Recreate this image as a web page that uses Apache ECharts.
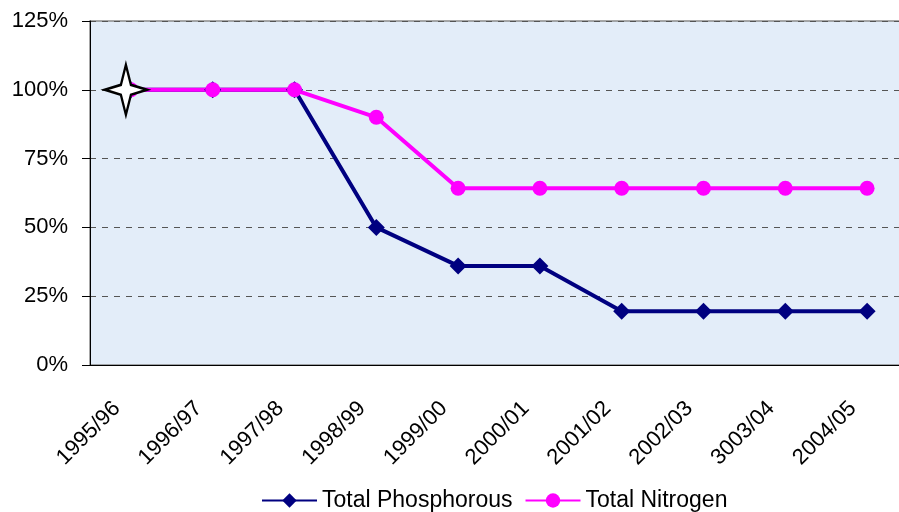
<!DOCTYPE html>
<html>
<head>
<meta charset="utf-8">
<script src="https://cdn.jsdelivr.net/npm/echarts@6/dist/echarts.min.js"></script>
<style>
  html, body { margin: 0; padding: 0; background: #fff; overflow: hidden; }
  #chart { width: 910px; height: 512px; }
</style>
</head>
<body>
<div id="chart"></div>
<script>
var years = ['1995/96', '1996/97', '1997/98', '1998/99', '1999/00', '2000/01', '2001/02', '2002/03', '3003/04', '2004/05'];
var phosphorous = [100, 100, 100, 50, 36, 36, 19.5, 19.5, 19.5, 19.5];
var nitrogen = [100, 100, 100, 90, 64.2, 64.2, 64.2, 64.2, 64.2, 64.2];
var yTicks = [0, 25, 50, 75, 100, 125];

// chart is a bit wider than the window: the plot runs off the right edge like the original
var myChart = echarts.init(document.getElementById('chart'));

var starPath = 'path://M0,-25 L5,-5 L21,0 L5,5 L0,25 L-5,5 L-21,0 L-5,-5 Z';

let option = {
    animation: false,
    textStyle: { fontFamily: 'Liberation Sans, Arial, sans-serif' },
    grid: {
        left: 90,
        right: 2,
        top: 21,
        bottom: 147,
        show: true,
        backgroundColor: '#e3edf9',
        borderColor: '#8a8a8a',
        borderWidth: 1.5
    },
    legend: {
        top: 484,
        left: 256,
        itemWidth: 55,
        itemHeight: 18,
        itemGap: 12,
        textStyle: { fontSize: 23, color: '#000', fontFamily: 'Liberation Sans, Arial, sans-serif' },
        data: ['Total Phosphorous', 'Total Nitrogen']
    },
    xAxis: {
        type: 'category',
        data: years,
        boundaryGap: true,
        axisLine: { lineStyle: { color: '#000', width: 1 } },
        axisTick: { length: 8, lineStyle: { color: '#000' } },
        axisLabel: {
            rotate: 45,
            fontSize: 22,
            color: '#000',
            margin: 26,
            padding: [0, 20, 0, 0],
            interval: 0
        }
    },
    yAxis: {
        type: 'value',
        min: 0,
        max: 125,
        interval: 25,
        axisLine: { show: true, lineStyle: { color: '#000', width: 1 } },
        axisTick: { show: true, length: 8, lineStyle: { color: '#000' } },
        axisLabel: {
            fontSize: 22,
            color: '#000',
            margin: 22,
            formatter: function (v) { return yTicks.indexOf(v) >= 0 ? v + '%' : ''; }
        },
        splitLine: { show: true, lineStyle: { color: '#555', type: [6, 6], width: 1 } }
    },
    series: [
        {
            name: 'Total Phosphorous',
            type: 'line',
            data: phosphorous,
            symbol: 'diamond',
            symbolSize: 17,
            color: '#000080',
            lineStyle: { width: 4, color: '#000080' },
            itemStyle: { color: '#000080' }
        },
        {
            name: 'Total Nitrogen',
            type: 'line',
            data: nitrogen,
            symbol: 'circle',
            symbolSize: 15,
            color: '#ff00ff',
            lineStyle: { width: 4, color: '#ff00ff' },
            itemStyle: { color: '#ff00ff' },
            markPoint: {
                symbol: starPath,
                symbolSize: [42, 50],
                symbolOffset: [-5, 0],
                label: { show: false },
                itemStyle: { color: '#fff', borderColor: '#000', borderWidth: 2.5 },
                data: [{ coord: [0, nitrogen[0]] }]
            }
        }
    ]
};

myChart.setOption(option);
</script>
</body>
</html>
